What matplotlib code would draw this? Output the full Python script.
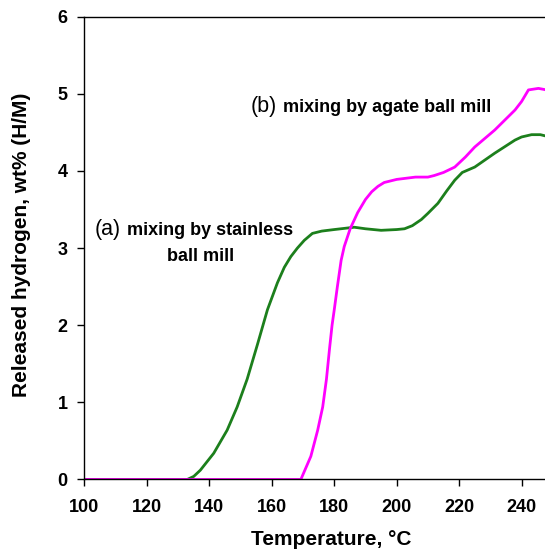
import numpy as np
import matplotlib
matplotlib.use("Agg")
import matplotlib.pyplot as plt

plt.rcParams['font.family'] = ['Liberation Sans', 'DejaVu Sans']

# (a) stainless ball mill - released hydrogen vs temperature
temp_a = [100, 110, 120, 130, 132.9, 135, 137.1, 141.4, 145.7, 148.9, 152.1, 155.4,
          158.6, 161.8, 164, 166.1, 168.2, 170.4, 173, 176, 180, 186.4, 190, 195,
          200, 202.5, 205, 207.9, 210, 213.2, 216, 218.6, 221, 225, 231.4, 237.9,
          240, 243.2, 246, 248]
h2_a = [0, 0, 0, 0, 0, 0.04, 0.12, 0.34, 0.64, 0.94, 1.30, 1.75,
        2.20, 2.55, 2.75, 2.89, 3.00, 3.10, 3.19, 3.22, 3.24, 3.27, 3.25, 3.23,
        3.24, 3.25, 3.29, 3.37, 3.45, 3.58, 3.74, 3.88, 3.98, 4.05, 4.23, 4.40,
        4.44, 4.47, 4.47, 4.45]

# (b) agate ball mill
temp_b = [100, 110, 120, 130, 140, 150, 160, 169.3, 172.5, 174.7, 176.3, 177.5,
          178.5, 179.3, 180.0, 181, 182.2, 183.2, 185.1, 187.5, 190, 192, 194,
          196, 200, 206, 210, 212, 215, 218.6, 222, 225, 231.4, 237.9, 240,
          242.2, 245.4, 248]
h2_b = [0, 0, 0, 0, 0, 0, 0, 0, 0.30, 0.64, 0.94, 1.30,
        1.70, 2.00, 2.20, 2.50, 2.84, 3.02, 3.25, 3.46, 3.63, 3.73, 3.80,
        3.85, 3.89, 3.92, 3.92, 3.94, 3.98, 4.05, 4.18, 4.31, 4.53, 4.79, 4.90,
        5.05, 5.07, 5.05]

x_ticks = [100, 120, 140, 160, 180, 200, 220, 240]
y_ticks = [0, 1, 2, 3, 4, 5, 6]

fig = plt.figure(figsize=(5.45, 5.51), dpi=100)
ax = fig.add_axes([0.155, 0.1298, 0.845, 0.840])

ax.plot(temp_a, h2_a, color='#1c7f1c', lw=2)
ax.plot(temp_b, h2_b, color='#ff00ff', lw=2)

ax.set_xlim(100, 247.5)
ax.set_ylim(0, 6)
ax.set_xticks(x_ticks)
ax.set_yticks(y_ticks)
ax.tick_params(direction='out', length=5, width=1, labelsize=13)
ax.tick_params(axis='x', pad=9)
ax.tick_params(axis='y', pad=7)
for lab in ax.get_xticklabels() + ax.get_yticklabels():
    lab.set_fontweight('bold')
ax.spines['right'].set_visible(False)
for s in ['left', 'bottom', 'top']:
    ax.spines[s].set_linewidth(1)

ax.set_xlabel('Temperature, °C', fontsize=15, fontweight='bold', va='center')
ax.xaxis.set_label_coords(0.535, -0.1307)
ax.set_ylabel('Released hydrogen, wt% (H/M)', fontsize=15, fontweight='bold', va='center')
ax.yaxis.set_label_coords(-0.1357, 0.508)

# curve labels: plain prefix followed by bold description
ta = ax.text(0.0228, 0.528, '(a)', transform=ax.transAxes, fontsize=15.5, va='baseline')
ax.annotate('mixing by stainless', xy=(1, 0.528), xycoords=(ta, 'axes fraction'),
            xytext=(4, 0), textcoords='offset points', fontsize=13,
            fontweight='bold', va='baseline')
ax.text(0.251, 0.472, 'ball mill', transform=ax.transAxes, fontsize=13,
        fontweight='bold', va='baseline', ha='center')

tb = ax.text(0.3616, 0.795, '(b)', transform=ax.transAxes, fontsize=15.5, va='baseline')
ax.annotate('mixing by agate ball mill', xy=(1, 0.795), xycoords=(tb, 'axes fraction'),
            xytext=(4, 0), textcoords='offset points', fontsize=13,
            fontweight='bold', va='baseline')

fig.savefig('out.png', dpi=100)
